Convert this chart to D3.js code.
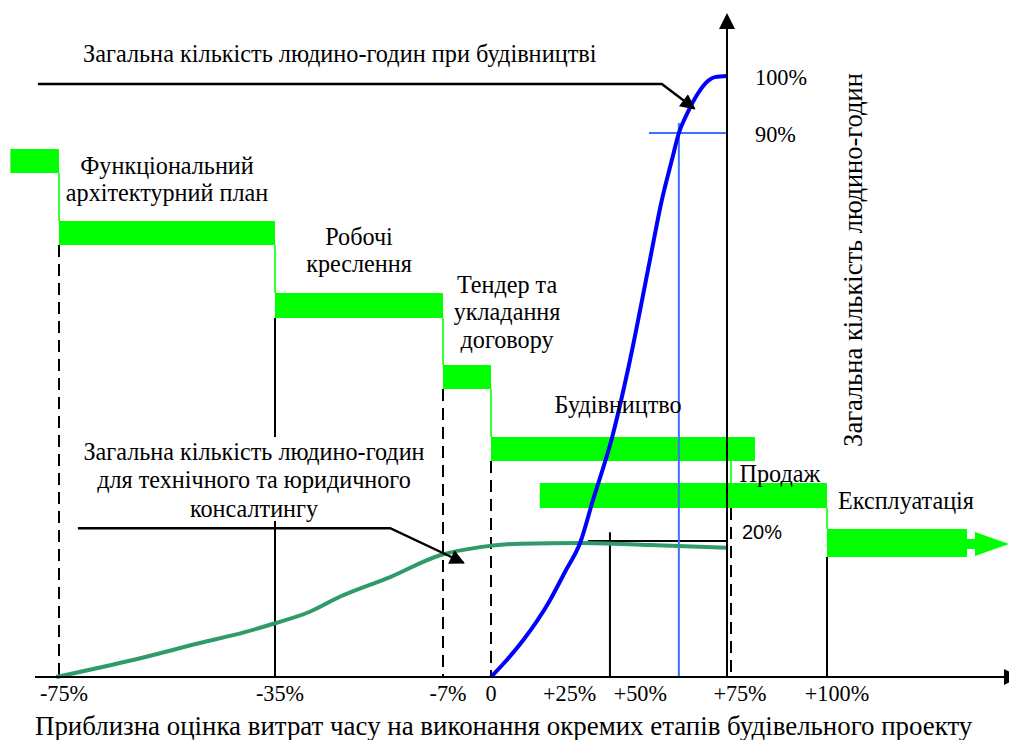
<!DOCTYPE html>
<html><head><meta charset="utf-8">
<script src="https://cdn.jsdelivr.net/npm/d3@7/dist/d3.min.js"></script>
</head><body style="margin:0;background:#fff">
<svg id="c" width="1009" height="740" style="display:block"></svg>
<script>
// ---------------- DATA ----------------
const xTicks = [-75, -35, -7, 0, 25, 50, 75, 100];
const xTickLabels = ["-75%", "-35%", "-7%", "0", "+25%", "+50%", "+75%", "+100%"];
const yTicks = [100, 90];
const yTickLabels = ["100%", "90%"];
const refLevel = 20;               // "20%" level
const refLabel = "20%";

const stageNames = [
  ["Функціональний", "архітектурний план"],
  ["Робочі", "креслення"],
  ["Тендер та", "укладання", "договору"],
  ["Будівництво"],
  ["Продаж"],
  ["Експлуатація"]
];
// stage bars (x in % of project time): 7 bars, first one is the lead-in stub
const barStart = [-84, -75, -35, -7, 0, 15.5, 100];
const barEnd   = [-75, -35, -7, 0, 82, 100, 135];
// transition points between successive bars
const transitions = [-75, -35, -7, 0, 76, 100];

// construction man-hours (cumulative, %)
const constrX = [0, 4.45, 10.2, 18.75, 23.8, 28.3, 32.4, 38.5, 44.2, 50.5, 54.3, 57.5, 59.7, 62.6, 65.5, 68.3, 71.2, 75];
const constrY = [0, 2.2, 5.4, 11.3, 15.7, 19.7, 27.0, 37.8, 51.1, 68.2, 78.5, 85.4, 90, 93.7, 96.7, 98.8, 99.8, 100];
// technical & legal consulting man-hours (%)
const consX = [-75.5, -61.3, -48.9, -40.6, -35, -29.2, -24.2, -15.8, -7.5, -1.6, 9.2, 28.3, 50.5, 75];
const consY = [0, 2.5, 5.0, 6.6, 7.9, 9.6, 11.8, 14.7, 17.9, 19.1, 19.6, 19.7, 19.4, 19.0];

// texts
const topNote = "Загальна кількість людино-годин при будівництві";
const midNote = ["Загальна кількість людино-годин", "для технічного та юридичного", "консалтингу"];
const yTitle = "Загальна кількість людино-годин";
const xTitle = "Приблизна оцінка витрат часу на виконання окремих етапів будівельного проекту";

// ---------------- LAYOUT ----------------
const SERIF = "Liberation Serif";
const SANS = "Liberation Sans";
const svg = d3.select("#c");
const x = d3.scaleLinear().domain([-75, -35, -7, 0, 75, 100]).range([59, 275, 443, 491, 727, 827]);
const y = d3.scaleLinear().domain([0, 20, 90, 100]).range([677, 541, 133, 76]);
const row = d3.scaleLinear().domain([0, 4, 6]).range([149, 437, 529]);
const barH = [24, 24, 25, 24, 24, 25, 28];
const rowTop = i => row(i), rowBot = i => row(i) + barH[i];

function txt(parent) {
  return parent.append("text").attr("font-family", SERIF).attr("fill", "#000");
}
function fit(sel, target) {
  const fs = parseFloat(sel.attr("font-size"));
  const w = sel.node().getComputedTextLength();
  const nf = Math.round(fs * target / w * 10) / 10;
  sel.attr("font-size", nf);
  return nf;
}

const LIME = "#00ff00", BLUE = "#0000ff", THINBLUE = "#3f6fff", GREEN = "#2f9a6a";

// defs
const defs = svg.append("defs");
defs.append("marker").attr("id", "ah").attr("viewBox", "0 0 10 10")
  .attr("refX", 9).attr("refY", 5).attr("markerUnits", "userSpaceOnUse")
  .attr("markerWidth", 18).attr("markerHeight", 15).attr("orient", "auto")
  .append("path").attr("d", "M0,0 L10,5 L0,10 Z").attr("fill", "#000");

// ---- green stage bars
svg.append("g").selectAll("rect").data(barStart).join("rect")
  .attr("x", (d, i) => x(d)).attr("y", (d, i) => rowTop(i))
  .attr("width", (d, i) => x(barEnd[i]) - x(d)).attr("height", (d, i) => barH[i])
  .attr("fill", LIME);
// block arrow on the last bar
{
  const i = barStart.length - 1, x0 = x(barEnd[i]), cy = rowTop(i) + barH[i] / 2 + 1;
  svg.append("path").attr("fill", LIME)
    .attr("d", `M${x0},${cy - 5} L${x0 + 8},${cy - 5} L${x0 + 8},${cy - 12} L${x0 + 42},${cy} L${x0 + 8},${cy + 12} L${x0 + 8},${cy + 5} L${x0},${cy + 5} Z`);
}
// thin green transition connectors
svg.append("g").selectAll("line").data(transitions).join("line")
  .attr("x1", d => x(d)).attr("x2", d => x(d))
  .attr("y1", (d, i) => rowBot(i)).attr("y2", (d, i) => rowTop(i + 1))
  .attr("stroke", LIME).attr("stroke-width", 1.6);

// ---- black vertical guide lines (from bar bottoms to the axis)
const guides = [
  {v: -75, from: rowBot(1), dash: true},
  {v: -35, from: rowBot(2), dash: false},
  {v: -7, from: rowBot(3), dash: true},
  {v: 0, from: rowBot(4), dash: true},
  {v: 76, from: rowBot(5), dash: true},
  {v: 100, from: rowBot(6), dash: false},
  {v: 37.8, from: y(21.5), dash: false}
];
svg.append("g").selectAll("line").data(guides).join("line")
  .attr("x1", d => x(d.v)).attr("x2", d => x(d.v))
  .attr("y1", d => d.from).attr("y2", y(0))
  .attr("stroke", "#000").attr("stroke-width", 2)
  .attr("stroke-dasharray", d => d.dash ? "12,7" : null);

// 20% reference line
svg.append("line").attr("x1", x(30.8)).attr("x2", x(75)).attr("y1", y(refLevel)).attr("y2", y(refLevel))
  .attr("stroke", "#000").attr("stroke-width", 2);

// thin blue 90% cross lines
svg.append("line").attr("x1", x(50.2)).attr("x2", x(75)).attr("y1", y(90)).attr("y2", y(90))
  .attr("stroke", THINBLUE).attr("stroke-width", 2);
svg.append("line").attr("x1", x(59.7)).attr("x2", x(59.7)).attr("y1", y(91.75)).attr("y2", y(0))
  .attr("stroke", THINBLUE).attr("stroke-width", 2);

// ---- curves
const line = d3.line().x(d => x(d[0])).y(d => y(d[1])).curve(d3.curveMonotoneX);
svg.append("path").datum(consX.map((v, i) => [v, consY[i]]))
  .attr("d", line).attr("fill", "none").attr("stroke", GREEN).attr("stroke-width", 4);
svg.append("path").datum(constrX.map((v, i) => [v, constrY[i]]))
  .attr("d", line).attr("fill", "none").attr("stroke", BLUE).attr("stroke-width", 4);

// ---- axes
svg.append("line").attr("x1", 35).attr("x2", 1004).attr("y1", y(0)).attr("y2", y(0))
  .attr("stroke", "#000").attr("stroke-width", 2);
svg.append("path").attr("d", `M1004,${y(0) - 8} L1020,${y(0)} L1004,${y(0) + 8} Z`).attr("fill", "#000");
svg.append("line").attr("x1", x(75)).attr("x2", x(75)).attr("y1", y(0)).attr("y2", 29)
  .attr("stroke", "#000").attr("stroke-width", 2);
svg.append("path").attr("d", `M${x(75) - 8},29 L${x(75)},13 L${x(75) + 8},29 Z`).attr("fill", "#000");

// ---- annotation leaders
const ann1 = [[-78.9, 98.6], [54.3, 98.6], [64.6, 94.3]];
const ann2 = [[-71.5, 22.2], [-15.8, 22.2], [-4.0, 16.8]];
const straight = d3.line().x(d => x(d[0])).y(d => y(d[1]));
[ann1, ann2].forEach(a => svg.append("path").attr("d", straight(a)).attr("fill", "none")
  .attr("stroke", "#000").attr("stroke-width", 2.4).attr("marker-end", "url(#ah)"));

// ---- texts
const tTop = txt(svg).attr("x", 83).attr("y", 62).attr("font-size", 22).text(topNote);
fit(tTop, 514);

// middle note with white backing
svg.append("rect").attr("x", 82).attr("y", 437).attr("width", 346).attr("height", 84).attr("fill", "#fff");
const midBase = [460, 488, 517];
const t0 = txt(svg).attr("x", 254).attr("y", midBase[0]).attr("text-anchor", "middle").attr("font-size", 22).text(midNote[0]);
const fsBase = fit(t0, 342);
midNote.slice(1).forEach((s, i) => txt(svg).attr("x", 254).attr("y", midBase[i + 1])
  .attr("text-anchor", "middle").attr("font-size", fsBase).text(s));

// stage labels
const stageLabelPos = [
  {cx: -55, base: [174, 201]},
  {cx: -21, base: [245, 272]},
  {cx: 5.1, base: [293, 320, 348]},
  {cx: 40.4, base: [413]},
  {cx: 88.2, base: [482]},
  {cx: 119.75, base: [509]}
];
stageNames.forEach((lines, i) => {
  lines.forEach((s, j) => txt(svg).attr("x", x(stageLabelPos[i].cx)).attr("y", stageLabelPos[i].base[j])
    .attr("text-anchor", "middle").attr("font-size", fsBase).text(s));
});

// x tick labels
const tickDx = [5, 5, 5, 0, 0, -8, 13, 10];
const tg = svg.append("g");
const tk = xTicks.map((d, i) => txt(tg).attr("x", x(d) + tickDx[i]).attr("y", 701)
  .attr("text-anchor", "middle").attr("font-size", 22).text(xTickLabels[i]));
{
  const fs = fit(tk[0], 48);
  tk.forEach(t => t.attr("font-size", fs));
}
// y tick labels
const yl = yTicks.map((d, i) => txt(svg).attr("x", x(75) + 28).attr("y", y(d) + 9)
  .attr("font-size", 22).text(yTickLabels[i]));
{
  const fs = fit(yl[0], 52);
  yl.forEach(t => t.attr("font-size", fs));
}
// 20% label
const t20 = svg.append("text").attr("x", x(75) + 15).attr("y", y(refLevel) - 2)
  .attr("font-size", 19).attr("font-family", SANS).attr("fill", "#000").text(refLabel);
fit(t20, 40);

// axis titles
const tx = txt(svg).attr("x", 35).attr("y", 735).attr("font-size", 25).text(xTitle);
fit(tx, 937);
const ty = txt(svg).attr("transform", "translate(862,260) rotate(-90)")
  .attr("text-anchor", "middle").attr("font-size", 24).text(yTitle);
fit(ty, 374);
</script>
</body></html>
